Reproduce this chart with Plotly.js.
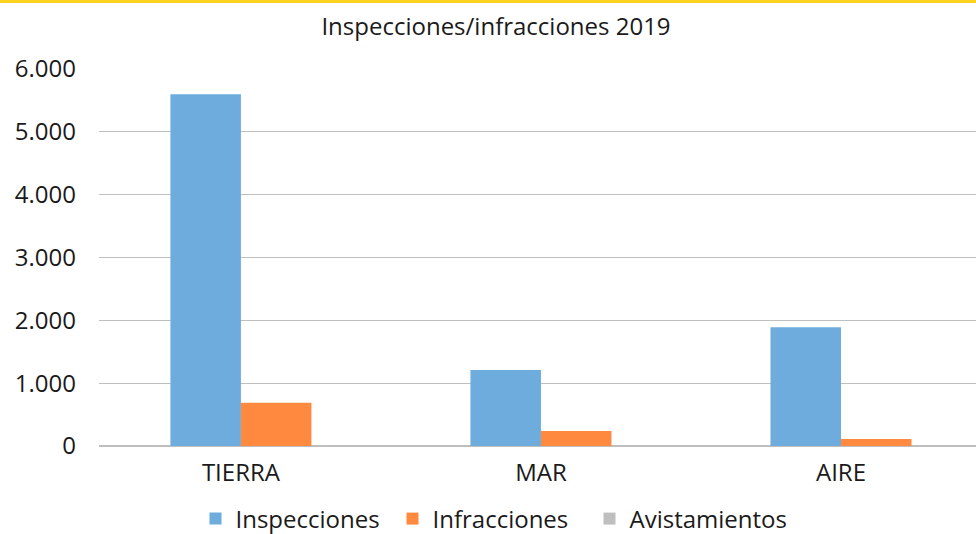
<!DOCTYPE html>
<html>
<head>
<meta charset="utf-8">
<script src="https://cdn.plot.ly/plotly-3.0.1.min.js"></script>
<style>
  html, body { margin: 0; padding: 0; background: #ffffff; }
  #wrap { position: relative; width: 976px; height: 534px; }
  #chart { width: 976px; height: 534px; }
  #topline { position: absolute; left: 0; top: 0; width: 976px; height: 3px; background: #FFD21F; z-index: 10; }
</style>
</head>
<body>
<div id="wrap">
  <div id="chart"></div>
  <div id="topline"></div>
</div>
<script>
const categories = ['TIERRA', 'MAR', 'AIRE'];
const inspecciones = [5600, 1210, 1890];
const infracciones = [690, 240, 110];
const avistamientos = [0, 0, 0];
const seriesNames = ['Inspecciones', 'Infracciones', 'Avistamientos'];
const yTicks = [0, 1000, 2000, 3000, 4000, 5000, 6000];

const FONT = '"Open Sans", "Noto Sans", sans-serif';
const TXT = '#1a1a1a';
const FS = 24;
const BW = 0.235;

const traces = [
  { type: 'bar', name: seriesNames[0], x: categories, y: inspecciones,
    offset: -BW, width: BW, marker: { color: '#6DACDC' }, hoverinfo: 'x+y' },
  { type: 'bar', name: seriesNames[1], x: categories, y: infracciones,
    offset: 0, width: BW, marker: { color: '#FF8A3F' }, hoverinfo: 'x+y' },
  { type: 'bar', name: seriesNames[2], x: categories, y: avistamientos,
    offset: BW, width: BW, marker: { color: '#BFBFBF' }, hoverinfo: 'x+y' }
];

const layout = {
  width: 976, height: 534,
  margin: { l: 99, r: 0, t: 69, b: 88 },
  paper_bgcolor: '#ffffff', plot_bgcolor: '#ffffff',
  separators: ',.',
  font: { family: FONT, size: FS, color: TXT },
  title: { text: 'Inspecciones/infracciones 2019', font: { family: FONT, size: FS, color: TXT },
           xref: 'container', x: 496 / 976, xanchor: 'center',
           yref: 'container', y: 1 - 27 / 534, yanchor: 'middle' },
  barmode: 'overlay',
  xaxis: { type: 'category', range: [-0.473, 2.45], showgrid: false, zeroline: false,
           showline: false, ticks: '', tickfont: { family: FONT, size: FS, color: TXT },
           ticklabelstandoff: 10, fixedrange: true },
  yaxis: { range: [0, 6000], tickvals: yTicks, tickformat: ',d', showgrid: true,
           gridcolor: '#BFBFBF', gridwidth: 1.3, zeroline: true, zerolinecolor: '#BFBFBF', zerolinewidth: 1.3,
           showline: false, ticks: '', tickfont: { family: FONT, size: FS, color: TXT },
           ticklabelstandoff: 22, fixedrange: true },
  showlegend: true,
  legend: { orientation: 'h', xref: 'container', x: 491 / 976, xanchor: 'center',
            yref: 'container', y: 1 - 519 / 534, yanchor: 'middle',
            font: { family: FONT, size: FS, color: TXT }, entrywidth: 152, traceorder: 'normal' }
};

Plotly.newPlot('chart', traces, layout, { displayModeBar: false, staticPlot: true });
</script>
</body>
</html>
